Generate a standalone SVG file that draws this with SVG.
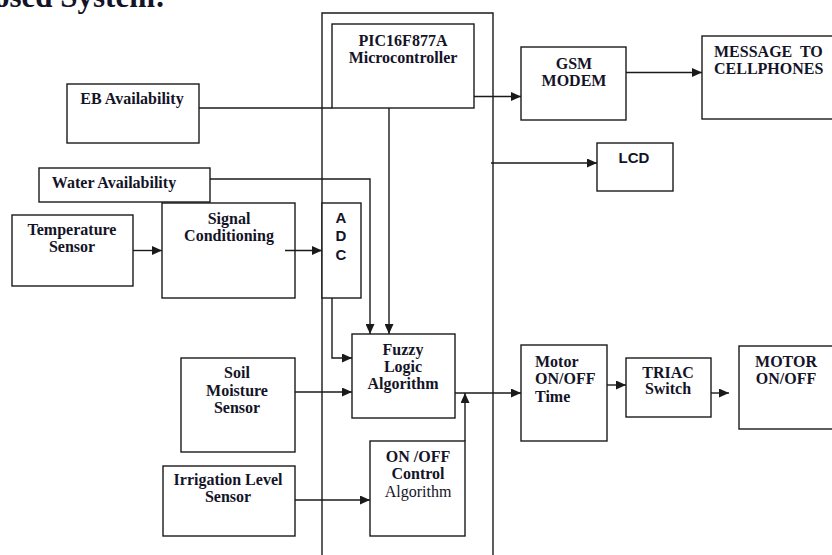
<svg xmlns="http://www.w3.org/2000/svg" width="832" height="555" viewBox="0 0 832 555">
<style>
.box{fill:#fff;stroke:#1a1a1a;stroke-width:1.4}
.frame{fill:none;stroke:#1a1a1a;stroke-width:1.4}
.t{font-family:"Liberation Serif","Times New Roman",serif;font-weight:bold;font-size:16px;fill:#141428;text-anchor:middle}
.tl{text-anchor:start}
.reg{font-weight:normal}
.s{font-family:"Liberation Sans",Arial,sans-serif;font-weight:bold;font-size:15px;fill:#141428;text-anchor:middle}
.c{fill:none;stroke:#1a1a1a;stroke-width:1.4}
.a{marker-end:url(#arr)}
</style>
<defs>
<marker id="arr" markerUnits="userSpaceOnUse" markerWidth="10" markerHeight="9" refX="10" refY="4.5" orient="auto">
<path d="M0,0 L10,4.5 L0,9 z" fill="#1a1a1a"/>
</marker>
</defs>
<rect width="832" height="555" fill="#fff"/>
<text x="-6" y="7" style="font-family:'Liberation Serif',serif;font-weight:bold;font-size:31px;fill:#141428">osed System:</text>
<path id="frame" class="frame" d="M322,560 L322,13 L493,13 L493,560"/>
<g id="pic"><rect class="box" x="332" y="24" width="142" height="84"/><text class="t" x="403" y="46">PIC16F877A</text><text class="t" x="403" y="63">Microcontroller</text></g>
<g id="gsm"><rect class="box" x="521" y="47" width="105" height="73"/><text class="t" x="574" y="69">GSM</text><text class="t" x="574" y="86">MODEM</text></g>
<g id="message"><rect class="box" x="702" y="36" width="140" height="83"/><text class="t tl" x="714" y="57" style="word-spacing:4px">MESSAGE TO</text><text class="t tl" x="714" y="74">CELLPHONES</text></g>
<g id="lcd"><rect class="box" x="597" y="143" width="76" height="48"/><text class="s" x="634" y="163">LCD</text></g>
<g id="eb"><rect class="box" x="67" y="84" width="132" height="59"/><text class="t" x="132" y="104">EB Availability</text></g>
<g id="water"><rect class="box" x="39" y="168" width="171" height="34"/><text class="t" x="114" y="188">Water Availability</text></g>
<g id="temp"><rect class="box" x="12" y="215" width="121" height="71"/><text class="t" x="72" y="235">Temperature</text><text class="t" x="72" y="252">Sensor</text></g>
<g id="signal"><rect class="box" x="162" y="203" width="133" height="95"/><text class="t" x="229" y="224">Signal</text><text class="t" x="229" y="241">Conditioning</text></g>
<g id="adc"><rect class="box" x="322" y="203" width="39" height="95"/><text class="s" x="341" y="223">A</text><text class="s" x="341" y="241">D</text><text class="s" x="341" y="260">C</text></g>
<g id="fuzzy"><rect class="box" x="352" y="334" width="103" height="84"/><text class="t" x="403" y="355">Fuzzy</text><text class="t" x="403" y="372">Logic</text><text class="t" x="403" y="389">Algorithm</text></g>
<g id="soil"><rect class="box" x="181" y="358" width="114" height="94"/><text class="t" x="237" y="378">Soil</text><text class="t" x="237" y="396">Moisture</text><text class="t" x="237" y="413">Sensor</text></g>
<g id="irrigation"><rect class="box" x="163" y="466" width="132" height="70"/><text class="t" x="228" y="485">Irrigation Level</text><text class="t" x="228" y="502">Sensor</text></g>
<g id="onoff"><rect class="box" x="370" y="441" width="95" height="95"/><text class="t" x="418" y="462">ON /OFF</text><text class="t" x="418" y="479">Control</text><text class="t reg" x="418" y="497">Algorithm</text></g>
<g id="motortime"><rect class="box" x="521" y="345" width="86" height="96"/><text class="t tl" x="535" y="367">Motor</text><text class="t tl" x="535" y="384">ON/OFF</text><text class="t tl" x="535" y="402">Time</text></g>
<g id="triac"><rect class="box" x="626" y="358" width="85" height="59"/><text class="t" x="668" y="378">TRIAC</text><text class="t" x="668" y="394">Switch</text></g>
<g id="motor"><rect class="box" x="739" y="346" width="100" height="83"/><text class="t" x="786" y="367">MOTOR</text><text class="t" x="786" y="384">ON/OFF</text></g>
<g id="connectors">
<path class="c" d="M199,108 L332,108"/>
<path class="c a" d="M474,96.5 L521,96.5"/>
<path class="c a" d="M626,72.5 L702,72.5"/>
<path class="c a" d="M491,163 L597,163"/>
<path class="c a" d="M389,108 L389,334"/>
<path class="c a" d="M210,179 L370,179 L370,334"/>
<path class="c a" d="M133,250.5 L162,250.5"/>
<path class="c a" d="M285,250.5 L322,250.5"/>
<path class="c a" d="M332,298 L332,358 L352,358"/>
<path class="c a" d="M295,392 L352,392"/>
<path class="c a" d="M295,500 L370,500"/>
<path class="c a" d="M465,441 L465,393"/>
<path class="c a" d="M455,393 L521,393"/>
<path class="c a" d="M607,385 L626,385"/>
<path class="c a" d="M711,393 L729,393"/>
</g>
</svg>
